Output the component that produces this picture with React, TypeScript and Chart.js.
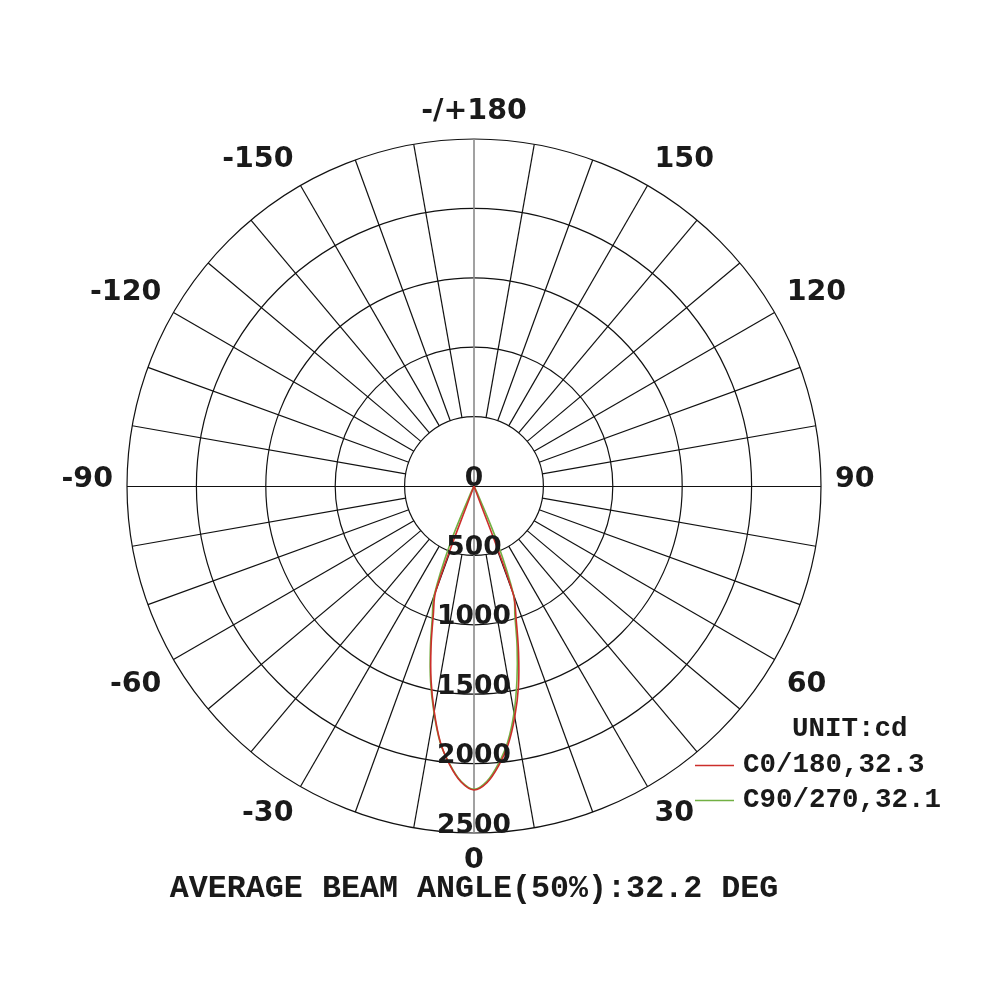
import React, { useEffect, useRef } from "react";
import { Chart, registerables } from "chart.js";

Chart.register(...registerables);

// ---- data (gamma angle in degrees, intensity in cd) ----
const gammaAngles = [
  -30, -27.5, -25, -22.5, -20, -17.5, -15, -12.5, -10, -7.5, -5, -2.5, 0,
  2.5, 5, 7.5, 10, 12.5, 15, 17.5, 20, 22.5, 25, 27.5, 30,
];
const c0_180 = [
  0, 0, 0, 0, 800, 975, 1195, 1430, 1650, 1860, 2015, 2135, 2190,
  2140, 2025, 1880, 1690, 1480, 1240, 1010, 820, 0, 0, 0, 0,
];
const c90_270 = [
  0, 0, 60, 450, 840, 1000, 1215, 1445, 1660, 1865, 2010, 2130, 2185,
  2130, 2010, 1860, 1660, 1430, 1200, 980, 835, 440, 60, 0, 0,
];
const seriesNames = ["C0/180,32.3", "C90/270,32.1"];
const seriesColors = ["#cc2e2b", "#72b043"];

const radialTicks = [0, 500, 1000, 1500, 2000, 2500];
const maxIntensity = 2500;
const angleTickValues = [0, 30, 60, 90, 120, 150, 180, -150, -120, -90, -60, -30];
const angleTickLabels = ["0", "30", "60", "90", "120", "150", "-/+180", "-150", "-120", "-90", "-60", "-30"];
const spokeStepDeg = 10;
const unitLabel = "UNIT:cd";
const beamTitle = "AVERAGE BEAM ANGLE(50%):32.2 DEG";

const toRad = (d: number) => (d * Math.PI) / 180;

function toPoints(values: number[]) {
  return gammaAngles.map((a, i) => ({
    x: values[i] * Math.sin(toRad(a)),
    y: -values[i] * Math.cos(toRad(a)),
  }));
}

const polarPlugin = {
  id: "polarGrid",
  beforeDraw(chart: any) {
    const ctx = chart.ctx;
    ctx.save();
    ctx.fillStyle = "#ffffff";
    ctx.fillRect(0, 0, chart.width, chart.height);
    ctx.restore();
  },
  beforeDatasetsDraw(chart: any) {
    const ctx = chart.ctx;
    const xs = chart.scales.x;
    const ys = chart.scales.y;
    const cx = xs.getPixelForValue(0);
    const cy = ys.getPixelForValue(0);
    const k = (xs.getPixelForValue(maxIntensity) - cx) / maxIntensity;
    const R = maxIntensity * k;
    const r0 = radialTicks[1] * k;
    ctx.save();
    ctx.strokeStyle = "#111111";
    ctx.lineWidth = 1.2;
    radialTicks.forEach((t) => {
      if (t <= 0) return;
      ctx.beginPath();
      ctx.arc(cx, cy, t * k, 0, Math.PI * 2);
      ctx.stroke();
    });
    for (let a = 0; a < 360; a += spokeStepDeg) {
      if (a % 90 === 0) continue;
      const s = Math.sin(toRad(a));
      const c = Math.cos(toRad(a));
      ctx.beginPath();
      ctx.moveTo(cx + r0 * s, cy + r0 * c);
      ctx.lineTo(cx + R * s, cy + R * c);
      ctx.stroke();
    }
    ctx.lineWidth = 1;
    ctx.beginPath();
    ctx.moveTo(cx - R, Math.round(cy) + 0.5);
    ctx.lineTo(cx + R, Math.round(cy) + 0.5);
    ctx.stroke();
    ctx.strokeStyle = "#8a8a8a";
    ctx.lineWidth = 1.6;
    ctx.beginPath();
    ctx.moveTo(cx, cy - R);
    ctx.lineTo(cx, cy + R);
    ctx.stroke();
    ctx.restore();
  },
  afterDatasetsDraw(chart: any) {
    const ctx = chart.ctx;
    const xs = chart.scales.x;
    const ys = chart.scales.y;
    const cx = xs.getPixelForValue(0);
    const cy = ys.getPixelForValue(0);
    const k = (xs.getPixelForValue(maxIntensity) - cx) / maxIntensity;
    ctx.save();
    // radial value labels
    ctx.fillStyle = "#1a1a1a";
    ctx.font = "bold 26.5px 'DejaVu Sans'";
    ctx.textAlign = "center";
    ctx.textBaseline = "alphabetic";
    radialTicks.forEach((t) => {
      ctx.fillText(String(t), cx, cy + t * k - 0.5);
    });
    // angle labels
    const fs = 28.5;
    ctx.font = `bold ${fs}px 'DejaVu Sans'`;
    const Rl = 361;
    angleTickValues.forEach((a, i) => {
      const ux = Math.sin(toRad(a));
      const uy = Math.cos(toRad(a));
      const px = cx + Rl * ux;
      const py = cy + Rl * uy;
      ctx.textAlign = ux > 0.01 ? "left" : ux < -0.01 ? "right" : "center";
      let by = py;
      if (uy > 0.01) by = py + fs * 0.729 + 10 * (1 - uy);
      else if (uy < -0.01) by = py - 6;
      else by = py + 1;
      ctx.fillText(angleTickLabels[i], px, by);
    });
    // unit + legend
    ctx.font = "bold 27.5px 'Liberation Mono'";
    ctx.textAlign = "left";
    ctx.fillText(unitLabel, 792, 736);
    const rows = [772, 807];
    chart.data.datasets.forEach((ds: any, i: number) => {
      const ly = rows[i] - 6.5;
      ctx.strokeStyle = ds.borderColor;
      ctx.lineWidth = 1.5;
      ctx.beginPath();
      ctx.moveTo(695, ly);
      ctx.lineTo(734, ly);
      ctx.stroke();
      ctx.fillStyle = "#1a1a1a";
      ctx.fillText(ds.label, 743, rows[i]);
    });
    // title
    ctx.font = "bold 31.7px 'Liberation Mono'";
    ctx.textAlign = "center";
    ctx.fillText(beamTitle, cx, 897);
    ctx.restore();
  },
};

export default function App() {
  const canvasRef = useRef<HTMLCanvasElement | null>(null);
  useEffect(() => {
    if (!canvasRef.current) return;
    const chart = new Chart(canvasRef.current, {
      type: "scatter",
      data: {
        datasets: [
          {
            label: seriesNames[0],
            data: toPoints(c0_180),
            showLine: true,
            borderColor: seriesColors[0],
            borderWidth: 1.6,
            pointRadius: 0,
            tension: 0.35,
            fill: false,
            clip: false as any,
          },
          {
            label: seriesNames[1],
            data: toPoints(c90_270),
            showLine: true,
            borderColor: seriesColors[1],
            borderWidth: 1.6,
            pointRadius: 0,
            tension: 0.35,
            fill: false,
            clip: false as any,
          },
        ],
      },
      options: {
        animation: false,
        responsive: false,
        layout: { padding: { left: 127, right: 179, top: 139, bottom: 167 } },
        plugins: { legend: { display: false }, tooltip: { enabled: false }, title: { display: false } },
        scales: {
          x: { type: "linear", min: -maxIntensity, max: maxIntensity, display: false },
          y: { type: "linear", min: -maxIntensity, max: maxIntensity, display: false },
        },
      },
      plugins: [polarPlugin],
    });
    return () => chart.destroy();
  }, []);
  return (
    <div style={{ position: "absolute", left: 0, top: 0, width: 1000, height: 1000, background: "#fff" }}>
      <canvas ref={canvasRef} width={1000} height={1000} style={{ width: 1000, height: 1000 }} />
    </div>
  );
}
